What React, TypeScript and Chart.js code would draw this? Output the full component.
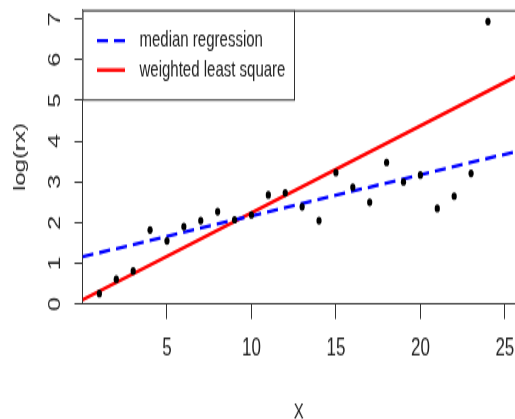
import React, { useEffect, useRef } from 'react';
import { Chart, registerables } from 'chart.js';

Chart.register(...registerables);

// ---- data ----
const xValues = [1, 2, 3, 4, 5, 6, 7, 8, 9, 10, 11, 12, 13, 14, 15, 16, 17, 18, 19, 20, 21, 22, 23, 24];
const logRx = [0.26, 0.61, 0.81, 1.82, 1.55, 1.9, 2.05, 2.27, 2.07, 2.19, 2.68, 2.73, 2.39, 2.05, 3.23, 2.87, 2.5, 3.48, 3.0, 3.17, 2.35, 2.65, 3.21, 6.94];
const medianLineX = [0, 26];
const medianLineY = [1.16, 3.78];
const wlsLineX = [0, 26];
const wlsLineY = [0.1, 5.66];
const xTickValues = [5, 10, 15, 20, 25];
const yTickValues = [0, 1, 2, 3, 4, 5, 6, 7];
const legendLabels = ['median regression', 'weighted least square'];

const S = 1.5; // vertical stretch of the reference picture
const W = 515;
const H = 284;
const FRAME = '#333333';
const TEXT = '#222222';
const FONT = "'Liberation Sans', Arial, sans-serif";

const framePlugin = {
  id: 'rframe',
  afterDraw(chart: any) {
    const { ctx, chartArea } = chart;
    const { left, top } = chartArea;
    ctx.save();
    // top frame line
    ctx.strokeStyle = FRAME;
    ctx.lineWidth = 1;
    ctx.beginPath();
    ctx.moveTo(left, top + 0.5);
    ctx.lineTo(chart.width, top + 0.5);
    ctx.stroke();
    // legend box
    const bx = left;
    const by = top;
    const bw = 211.5;
    const bh = 59.5;
    ctx.fillStyle = '#ffffff';
    ctx.fillRect(bx, by, bw, bh);
    ctx.strokeRect(bx + 0.5, by + 0.5, bw, bh);
    const ds = chart.data.datasets;
    const entries = [
      { label: legendLabels[0], color: ds[1].borderColor, dash: ds[1].borderDash, y: 27.1 },
      { label: legendLabels[1], color: ds[2].borderColor, dash: ds[2].borderDash, y: 46.7 },
    ];
    ctx.font = `15px ${FONT}`;
    ctx.textBaseline = 'middle';
    ctx.textAlign = 'left';
    for (const e of entries) {
      ctx.strokeStyle = e.color;
      ctx.lineWidth = 2.4;
      ctx.setLineDash(e.dash || []);
      ctx.beginPath();
      ctx.moveTo(97, e.y);
      ctx.lineTo(125, e.y);
      ctx.stroke();
      ctx.setLineDash([]);
      ctx.fillStyle = TEXT;
      ctx.fillText(e.label, 139.5, e.y);
    }
    ctx.restore();
  },
};

export default function App() {
  const ref = useRef<HTMLCanvasElement | null>(null);

  useEffect(() => {
    if (!ref.current) return;
    const points = xValues.map((x, i) => ({ x, y: logRx[i] }));
    const median = medianLineX.map((x, i) => ({ x, y: medianLineY[i] }));
    const wls = wlsLineX.map((x, i) => ({ x, y: wlsLineY[i] }));
    const chart = new Chart(ref.current, {
      type: 'scatter',
      data: {
        datasets: [
          {
            label: 'log(rx)',
            data: points,
            backgroundColor: '#000000',
            borderColor: '#000000',
            pointRadius: 2.6,
            pointBorderWidth: 0,
            showLine: false,
          },
          {
            label: legendLabels[0],
            data: median,
            showLine: true,
            borderColor: '#0000ff',
            borderWidth: 2.3,
            borderDash: [11, 6],
            pointRadius: 0,
            fill: false,
          },
          {
            label: legendLabels[1],
            data: wls,
            showLine: true,
            borderColor: '#ff0000',
            borderWidth: 2.4,
            pointRadius: 0,
            fill: false,
          },
        ],
      },
      options: {
        animation: false,
        responsive: false,
        devicePixelRatio: 1,
        layout: { autoPadding: false, padding: { top: 6.7, left: 0, right: 0, bottom: 0 } },
        plugins: {
          legend: { display: false },
          tooltip: { enabled: false },
        },
        scales: {
          x: {
            type: 'linear',
            min: 0,
            max: 25.6,
            afterBuildTicks: (scale: any) => {
              scale.ticks = xTickValues.map((v) => ({ value: v }));
            },
            afterFit: (scale: any) => {
              scale.height = H - 202.7;
              scale.paddingLeft = 0;
              scale.paddingRight = 0;
            },
            grid: {
              drawOnChartArea: false,
              drawTicks: true,
              tickLength: 10,
              color: FRAME,
              lineWidth: 1,
            },
            border: { display: true, color: FRAME, width: 1 },
            ticks: {
              color: TEXT,
              font: { family: FONT, size: 17 },
              padding: 9,
              maxRotation: 0,
              minRotation: 0,
            },
            title: {
              display: true,
              text: 'X',
              color: TEXT,
              font: { family: FONT, size: 15 },
              padding: { top: 0, bottom: 0 },
            },
          },
          y: {
            type: 'linear',
            min: 0,
            max: 7.22,
            afterBuildTicks: (scale: any) => {
              scale.ticks = yTickValues.map((v) => ({ value: v }));
            },
            afterFit: (scale: any) => {
              scale.width = 82.5;
              scale.paddingTop = 0;
              scale.paddingBottom = 0;
            },
            grid: {
              drawOnChartArea: false,
              drawTicks: true,
              tickLength: 8,
              color: FRAME,
              lineWidth: 1,
            },
            border: { display: true, color: FRAME, width: 1 },
            ticks: {
              color: TEXT,
              font: { family: FONT, size: 17 },
              padding: 14.5,
              minRotation: 90,
              maxRotation: 90,
              crossAlign: 'center',
            },
            title: {
              display: true,
              text: 'log(rx)',
              color: TEXT,
              font: { family: FONT, size: 16 },
              padding: { top: 11, bottom: 0 },
            },
          },
        },
      },
      plugins: [framePlugin],
    } as any);
    return () => chart.destroy();
  }, []);

  return (
    <div
      style={{
        position: 'fixed',
        left: 0,
        top: 0,
        width: W,
        height: 419,
        overflow: 'hidden',
        background: '#ffffff',
      }}
    >
      <div style={{ width: W, height: H, transform: `scaleY(${S})`, transformOrigin: '0 0' }}>
        <canvas ref={ref} width={W} height={H} style={{ width: W, height: H, display: 'block' }} />
      </div>
    </div>
  );
}
